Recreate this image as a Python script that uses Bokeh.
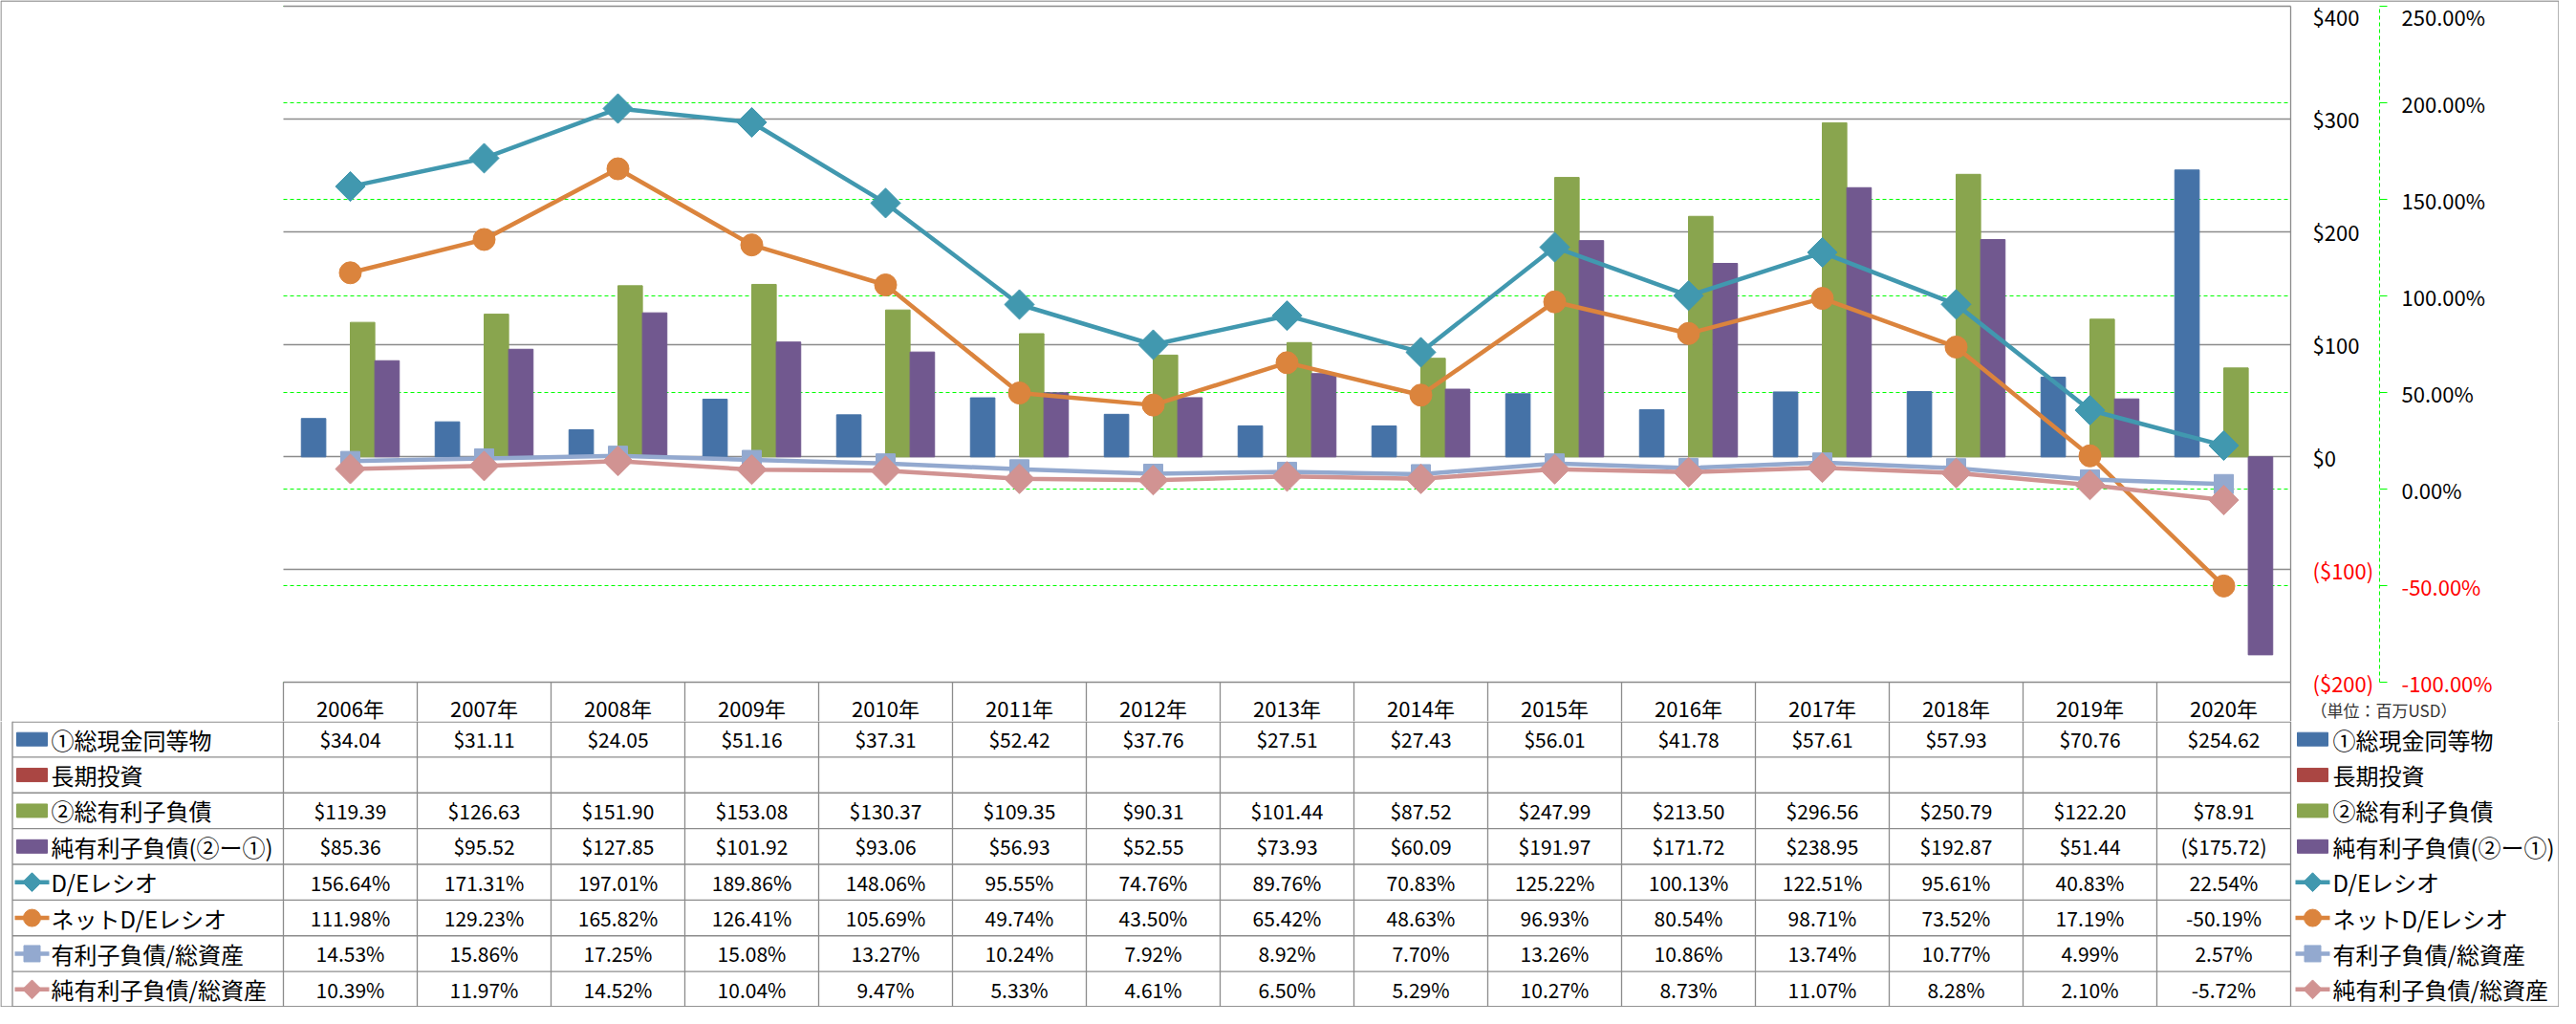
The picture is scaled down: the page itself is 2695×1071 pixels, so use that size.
import math
from bokeh.plotting import figure
from bokeh.models import Range1d, LinearAxis, FixedTicker, Grid, Label, ColumnDataSource
from bokeh.layouts import column
from bokeh.transform import dodge
from bokeh.embed import file_html
from bokeh.resources import INLINE
from bokeh.core.properties import value

# ---------------- data ----------------
years = ["2006年", "2007年", "2008年", "2009年", "2010年", "2011年", "2012年", "2013年",
         "2014年", "2015年", "2016年", "2017年", "2018年", "2019年", "2020年"]
cash = [34.04, 31.11, 24.05, 51.16, 37.31, 52.42, 37.76, 27.51, 27.43, 56.01, 41.78, 57.61, 57.93, 70.76, 254.62]
long_term_investment = [None] * 15
debt = [119.39, 126.63, 151.90, 153.08, 130.37, 109.35, 90.31, 101.44, 87.52, 247.99, 213.50, 296.56, 250.79, 122.20, 78.91]
net_debt = [85.36, 95.52, 127.85, 101.92, 93.06, 56.93, 52.55, 73.93, 60.09, 191.97, 171.72, 238.95, 192.87, 51.44, -175.72]
de_ratio = [156.64, 171.31, 197.01, 189.86, 148.06, 95.55, 74.76, 89.76, 70.83, 125.22, 100.13, 122.51, 95.61, 40.83, 22.54]
net_de_ratio = [111.98, 129.23, 165.82, 126.41, 105.69, 49.74, 43.50, 65.42, 48.63, 96.93, 80.54, 98.71, 73.52, 17.19, -50.19]
debt_to_assets = [14.53, 15.86, 17.25, 15.08, 13.27, 10.24, 7.92, 8.92, 7.70, 13.26, 10.86, 13.74, 10.77, 4.99, 2.57]
net_debt_to_assets = [10.39, 11.97, 14.52, 10.04, 9.47, 5.33, 4.61, 6.50, 5.29, 10.27, 8.73, 11.07, 8.28, 2.10, -5.72]

series_names = ["①総現金同等物", "長期投資", "②総有利子負債", "純有利子負債(②ー①)",
                "D/Eレシオ", "ネットD/Eレシオ", "有利子負債/総資産", "純有利子負債/総資産"]
usd_ticks = [-200, -100, 0, 100, 200, 300, 400]
usd_tick_labels = ["($200)", "($100)", "$0", "$100", "$200", "$300", "$400"]
pct_ticks = [-100, -50, 0, 50, 100, 150, 200, 250]
pct_tick_labels = ["-100.00%", "-50.00%", "0.00%", "50.00%", "100.00%", "150.00%", "200.00%", "250.00%"]
unit_text = "（単位：百万USD）"

# ---------------- styles / layout ----------------
C_CASH, C_LTI, C_DEBT, C_NET = "#4572A7", "#AA4643", "#89A54E", "#71588F"
C_DE, C_NDE, C_DA, C_NDA = "#4198AF", "#DB843D", "#93A9CF", "#D19392"
GRAY = "#8c8c8c"
LIME = "#00FF00"
FONT = "Noto Sans CJK JP"

W = 2677            # canvas width
H1 = 754            # chart canvas height (includes the header row)
H2 = 299            # table canvas height
PL, PR, PT, PB = 296, 2396, 6, 713   # plot area (canvas px)
NCAT = len(years)
CW = (PR - PL) / NCAT
USD_MIN, USD_MAX = usd_ticks[0], usd_ticks[-1]
PCT_MIN, PCT_MAX = pct_ticks[0], pct_ticks[-1]
ku = (PB - PT) / (USD_MAX - USD_MIN)
kp = (PB - PT) / (PCT_MAX - PCT_MIN)
XL, XR = -0.5, NCAT - 0.5
PCT_AXIS_OFFSET = 93   # px from plot right edge to the % axis line

p = figure(frame_width=W, frame_height=H1, min_border=0,
           x_range=Range1d(XL - PL / CW, XL + (W - PL) / CW),
           y_range=Range1d(USD_MIN - (H1 - PB) / ku, USD_MAX + PT / ku),
           x_axis_location=None, y_axis_location=None, title_location=None,
           toolbar_location=None, output_backend="svg")
p.center = [r for r in p.center if not isinstance(r, Grid)]
p.renderers = [r for r in p.renderers if not isinstance(r, Grid)]
p.outline_line_color = None
p.background_fill_color = "white"
p.border_fill_color = "white"
p.extra_y_ranges = {"pct": Range1d(PCT_MIN - (H1 - PB) / kp, PCT_MAX + PT / kp),
                    "py": Range1d(H1, 0)}
p.extra_x_ranges = {"px": Range1d(0, W)}

# grids
p.add_layout(Grid(dimension=1, ticker=FixedTicker(ticks=pct_ticks), y_range_name="pct",
                  cross_bounds=(XL, XR), grid_line_color=LIME, grid_line_dash="4 3",
                  grid_line_width=1))
p.add_layout(Grid(dimension=1, ticker=FixedTicker(ticks=usd_ticks), cross_bounds=(XL, XR),
                  grid_line_color=GRAY, grid_line_width=1.3))

# $ axis (black labels for >= 0, red for < 0)
common = dict(major_tick_in=0, minor_tick_in=0, minor_tick_out=0,
              major_label_text_font=FONT, major_label_text_font_size="22px")
usd_pos = [(t, l) for t, l in zip(usd_ticks, usd_tick_labels) if t >= 0]
usd_neg = [(t, l) for t, l in zip(usd_ticks, usd_tick_labels) if t < 0]
p.add_layout(LinearAxis(fixed_location=XR, bounds=(USD_MIN, USD_MAX),
                        ticker=FixedTicker(ticks=[t for t, _ in usd_pos]),
                        major_label_overrides=dict(usd_pos), axis_line_color=GRAY,
                        axis_line_width=1.3, major_tick_out=0, major_label_standoff=23,
                        major_label_text_color="black", **common), "right")
p.add_layout(LinearAxis(fixed_location=XR, bounds=(USD_MIN, USD_MAX),
                        ticker=FixedTicker(ticks=[t for t, _ in usd_neg]),
                        major_label_overrides=dict(usd_neg), axis_line_color=None,
                        major_tick_out=0, major_label_standoff=23,
                        major_label_text_color="red", **common), "right")
# % axis
pct_pos = [(t, l) for t, l in zip(pct_ticks, pct_tick_labels) if t >= 0]
pct_neg = [(t, l) for t, l in zip(pct_ticks, pct_tick_labels) if t < 0]
p.add_layout(LinearAxis(y_range_name="pct", fixed_location=XR + PCT_AXIS_OFFSET / CW,
                        bounds=(PCT_MIN, PCT_MAX),
                        ticker=FixedTicker(ticks=[t for t, _ in pct_pos]),
                        major_label_overrides=dict(pct_pos), axis_line_color=LIME,
                        axis_line_dash="4 3", axis_line_width=1, major_tick_out=8,
                        major_tick_line_color=LIME, major_label_standoff=15,
                        major_label_text_color="black", **common), "right")
p.add_layout(LinearAxis(y_range_name="pct", fixed_location=XR + PCT_AXIS_OFFSET / CW,
                        bounds=(PCT_MIN, PCT_MAX),
                        ticker=FixedTicker(ticks=[t for t, _ in pct_neg]),
                        major_label_overrides=dict(pct_neg), axis_line_color=None,
                        major_tick_out=8, major_tick_line_color=LIME, major_label_standoff=15,
                        major_label_text_color="red", **common), "right")

# year header (x axis)
idx = list(range(NCAT))
p.add_layout(LinearAxis(fixed_location=USD_MIN, ticker=FixedTicker(ticks=idx),
                        major_label_overrides={i: y for i, y in enumerate(years)},
                        axis_line_color=None, major_tick_in=0, major_tick_out=0,
                        minor_tick_in=0, minor_tick_out=0, major_label_standoff=10,
                        major_label_text_font=FONT, major_label_text_font_size="22px",
                        major_label_text_color="black"), "below")
# header row separators
bx = [XL + i for i in range(NCAT + 1)]
p.segment(x0=bx, y0=[PB] * len(bx), x1=bx, y1=[H1] * len(bx), y_range_name="py",
          line_color=GRAY, line_width=1.3)

# unit note
p.add_layout(Label(x=PR + 21, y=PB + 29, x_range_name="px", y_range_name="py",
                   text=unit_text, text_color="#333333", text_align="left", text_baseline="middle",
                   text_font=FONT, text_font_size="17px"))

# outer border (top part)
p.segment(x0=[0.5, 0.5, W - 0.5], y0=[0.5, 0.5, 0.5], x1=[W - 0.5, 0.5, W - 0.5], y1=[0.5, H1, H1],
          x_range_name="px", y_range_name="py", line_color=GRAY, line_width=1.3)

# bars
src = ColumnDataSource(dict(x=idx, cash=cash, debt=debt, net=net_debt,
                            de=de_ratio, nde=net_de_ratio, da=debt_to_assets, nda=net_debt_to_assets))
bw = 0.183
p.vbar(x=dodge("x", -1.5 * bw), top="cash", width=bw, bottom=0, source=src, color=C_CASH)
p.vbar(x=dodge("x", 0.5 * bw), top="debt", width=bw, bottom=0, source=src, color=C_DEBT)
p.vbar(x=dodge("x", 1.5 * bw), top="net", width=bw, bottom=0, source=src, color=C_NET)

# lines
LW = 4.5
p.line("x", "de", source=src, y_range_name="pct", line_width=LW, color=C_DE)
p.scatter("x", "de", source=src, y_range_name="pct", marker="square", angle=math.pi / 4, size=22, color=C_DE)
p.line("x", "nde", source=src, y_range_name="pct", line_width=LW, color=C_NDE)
p.scatter("x", "nde", source=src, y_range_name="pct", marker="circle", size=23, color=C_NDE)
p.line("x", "da", source=src, y_range_name="pct", line_width=LW, color=C_DA)
p.scatter("x", "da", source=src, y_range_name="pct", marker="square", size=20, color=C_DA)
p.line("x", "nda", source=src, y_range_name="pct", line_width=LW, color=C_NDA)
p.scatter("x", "nda", source=src, y_range_name="pct", marker="square", angle=math.pi / 4, size=22, color=C_NDA)

# ---------------- table ----------------
t = figure(frame_width=W, frame_height=H2, min_border=0, x_range=Range1d(0, W), y_range=Range1d(H2, 0),
           x_axis_location=None, y_axis_location=None, title_location=None,
           toolbar_location=None, output_backend="svg")
t.center = [r for r in t.center if not isinstance(r, Grid)]
t.renderers = [r for r in t.renderers if not isinstance(r, Grid)]
t.outline_line_color = None
t.background_fill_color = "white"
t.border_fill_color = "white"

RH = H2 / 8.0
TL = 12.5
x0s, y0s, x1s, y1s = [], [], [], []
for k in range(9):
    yy = min(max(k * RH, 0.7), H2 - 0.7)
    x0s.append(TL); x1s.append(PR); y0s.append(yy); y1s.append(yy)
for xx in [TL] + [PL + CW * k for k in range(NCAT + 1)]:
    x0s.append(xx); x1s.append(xx); y0s.append(0); y1s.append(H2)
t.segment(x0=x0s, y0=y0s, x1=x1s, y1=y1s, line_color=GRAY, line_width=1.3)
# outer border (bottom part)
t.segment(x0=[0.5, W - 0.5, 0.5], y0=[0, 0, H2 - 0.5], x1=[0.5, W - 0.5, W - 0.5], y1=[H2, H2, H2 - 0.5],
          line_color=GRAY, line_width=1.3)


def fmt_usd(v):
    if v is None:
        return ""
    return "${:,.2f}".format(v) if v >= 0 else "(${:,.2f})".format(-v)


def fmt_pct(v):
    return "{:.2f}%".format(v)


rows = [
    [fmt_usd(v) for v in cash],
    [fmt_usd(v) for v in long_term_investment],
    [fmt_usd(v) for v in debt],
    [fmt_usd(v) for v in net_debt],
    [fmt_pct(v) for v in de_ratio],
    [fmt_pct(v) for v in net_de_ratio],
    [fmt_pct(v) for v in debt_to_assets],
    [fmt_pct(v) for v in net_debt_to_assets],
]
cx, cy, ct = [], [], []
for r, vals in enumerate(rows):
    for k, s in enumerate(vals):
        cx.append(PL + CW * k + CW / 2); cy.append((r + 0.5) * RH); ct.append(s)
t.text(x=cx, y=cy, text=ct, text_align="center", text_baseline="middle",
       text_font=value(FONT), text_font_size=value("21px"), text_color="black")

# row labels (table) and right-side legend
bar_colors = [C_CASH, C_LTI, C_DEBT, C_NET]
line_specs = [(C_DE, "diamond"), (C_NDE, "circle"), (C_DA, "square"), (C_NDA, "diamond")]
for icon_x, text_x in [(33, 53), (PR + 23, PR + 44)]:
    ys = [(r + 0.5) * RH for r in range(8)]
    t.text(x=[text_x] * 8, y=ys, text=series_names, text_align="left", text_baseline="middle",
           text_font=value(FONT), text_font_size=value("24px"), text_color="black")
    t.rect(x=[icon_x] * 4, y=ys[:4], width=32, height=14, color=bar_colors)
    for i, (c, m) in enumerate(line_specs):
        yy = ys[4 + i]
        t.segment(x0=[icon_x - 18], y0=[yy], x1=[icon_x + 18], y1=[yy], line_color=c, line_width=4.5)
        if m == "diamond":
            t.scatter([icon_x], [yy], marker="square", angle=math.pi / 4, size=14, color=c)
        elif m == "circle":
            t.scatter([icon_x], [yy], marker="circle", size=18, color=c)
        else:
            t.scatter([icon_x], [yy], marker="square", size=17, color=c)

layout = column(p, t)
open("out.html", "w").write(file_html(layout, INLINE))
